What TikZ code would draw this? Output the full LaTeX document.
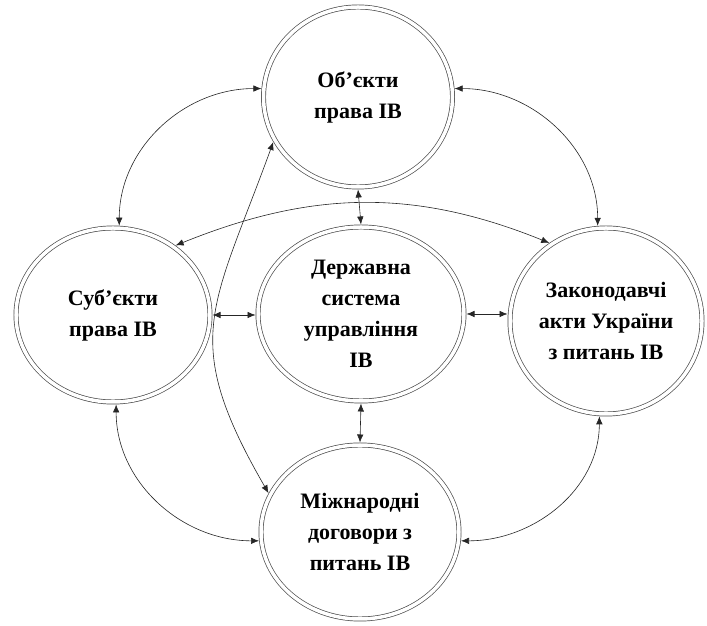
\documentclass[tikz,border=0pt]{standalone}
\usepackage{fontspec}
\setmainfont{Liberation Serif}
\usetikzlibrary{shapes.geometric,arrows.meta}

\begin{document}
\begin{tikzpicture}[x=1pt,y=1pt,
    e/.style={ellipse,draw=black!70,double,double distance=3.5pt,line width=0.7pt,
      inner sep=0pt,outer sep=2.5pt,align=center,
      font=\bfseries\fontsize{22}{31}\selectfont},
    link/.style={draw=black!85,line width=0.6pt,
      {Latex[length=8pt,width=6.5pt]}-{Latex[length=8pt,width=6.5pt]}},]
  \useasboundingbox (0,0) rectangle (707,626);
  \node[e,minimum width=189pt,minimum height=180pt] (obj) at (358,529) {Об’єкти\\права ІВ};
  \node[e,minimum width=194pt,minimum height=174pt] (subj) at (113,311) {Суб’єкти\\права ІВ};
  \node[e,minimum width=206pt,minimum height=174pt] (state) at (361,312) {Державна\\система\\управління\\ІВ};
  \node[e,minimum width=192pt,minimum height=186pt] (law) at (606,305) {Законодавчі\\акти України\\з питань ІВ};
  \node[e,minimum width=198pt,minimum height=174pt] (intl) at (360,94) {Міжнародні\\договори з\\питань ІВ};
  % curves round the outside
  \draw[link] (obj.175) to[out=180,in=90] (subj.86);
  \draw[link] (obj.5) to[out=0,in=90] (law.95);
  \draw[link] (subj.272) to[out=270,in=180] (intl.185);
  \draw[link] (law.266) to[out=270,in=0] (intl.355);
  % long ones
  \draw[link] (subj.48) to[out=22,in=158] (law.126);
  \draw[link] (obj.208) to[out=250,in=120,looseness=1.3] (intl.157);
  % short ones
  \draw[link] (subj.east) -- (subj.east -| state.west);
  \draw[link] (state.east) -- (state.east -| law.west);
  \draw[link] (obj.south) -- (state.north);
  \draw[link] (state.south) -- (intl.north);
\end{tikzpicture}
\end{document}
